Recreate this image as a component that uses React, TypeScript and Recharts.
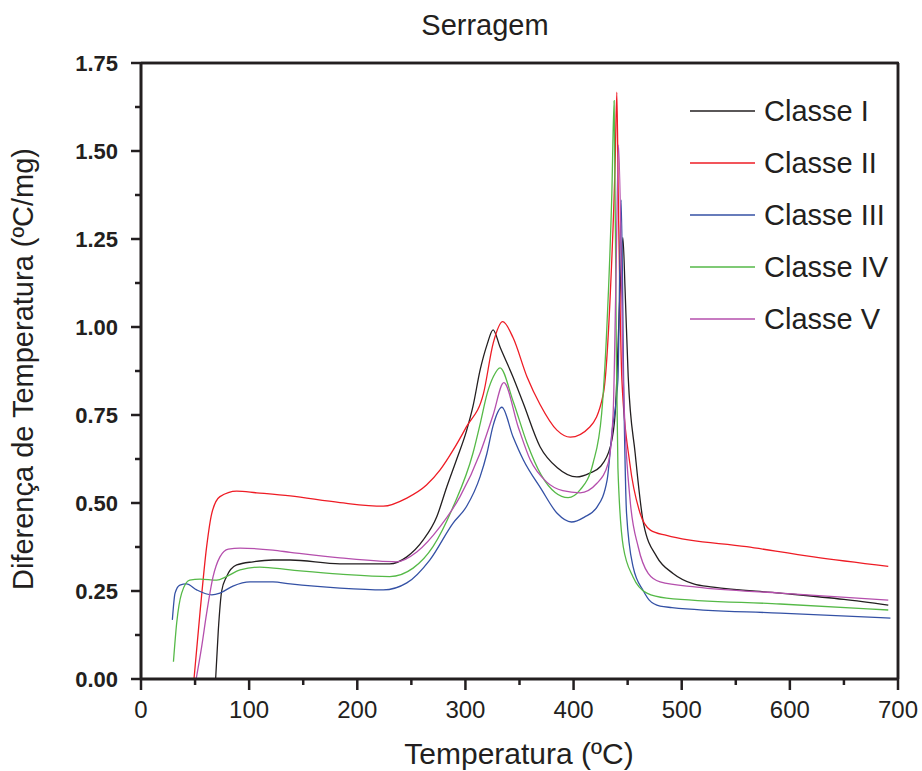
import React from "react";
import { LineChart, Line, XAxis, YAxis } from "recharts";

// [temperatura ºC, diferença ºC/mg]
const classeI: [number, number][] = [
  [69, 0], [71.5, 0.139], [74.6, 0.25], [79, 0.29], [88.5, 0.324], [103.6, 0.333],
  [122, 0.338], [138, 0.338], [184, 0.327], [230, 0.327], [245.8, 0.347], [261, 0.395],
  [273.5, 0.461], [282.8, 0.546], [292, 0.625], [301, 0.705], [307, 0.775], [313.6, 0.878],
  [320, 0.95], [325.6, 0.992], [332, 0.943], [344, 0.858], [353.4, 0.784], [369, 0.66],
  [385, 0.6], [403, 0.574], [415, 0.585], [424.6, 0.603], [434, 0.66], [438.5, 0.755],
  [443, 1.1], [445.6, 1.254], [447.7, 1.1], [450.5, 0.86], [457, 0.64], [464.6, 0.443],
  [477, 0.347], [492, 0.3], [511, 0.27], [529, 0.261], [591, 0.244], [650, 0.226], [691, 0.21],
];

const classeII: [number, number][] = [
  [49, 0], [54.6, 0.19], [60.7, 0.376], [65.4, 0.47], [73, 0.518], [88.5, 0.534],
  [107, 0.529], [138, 0.52], [184, 0.501], [224, 0.491], [245.8, 0.514], [264, 0.551],
  [276.6, 0.594], [288.6, 0.65], [301, 0.717], [316.6, 0.81], [325.7, 0.954], [334.5, 1.015],
  [344, 0.97], [357, 0.858], [369, 0.78], [384.6, 0.707], [397, 0.687], [415, 0.716],
  [427.5, 0.81], [434, 1.097], [438.5, 1.474], [440, 1.667], [441.3, 1.38], [444.7, 0.849],
  [452, 0.613], [461.6, 0.47], [471, 0.423], [486, 0.408], [560, 0.376], [622, 0.347], [691, 0.32],
];

const classeIII: [number, number][] = [
  [29, 0.168], [31.5, 0.244], [36, 0.267], [42, 0.27], [51.5, 0.253], [65.4, 0.239],
  [73, 0.244], [85, 0.264], [100.8, 0.276], [122, 0.276], [138, 0.27], [184, 0.258],
  [224, 0.253], [245.8, 0.273], [267, 0.338], [288.6, 0.443], [301, 0.49], [313.6, 0.575],
  [319.8, 0.64], [325.6, 0.72], [333.7, 0.772], [344, 0.688], [353.6, 0.622], [370, 0.54],
  [385, 0.47], [398, 0.446], [410, 0.46], [421.8, 0.489], [431, 0.565], [435.7, 0.707],
  [441, 0.85], [444, 1.361], [446.5, 0.8], [449, 0.47], [455, 0.319], [464.6, 0.25],
  [470, 0.224], [480, 0.207], [491, 0.203], [591, 0.187], [693, 0.173],
];

const classeIV: [number, number][] = [
  [30, 0.049], [33, 0.159], [37.6, 0.244], [45, 0.281], [54.6, 0.284], [70, 0.281],
  [79, 0.291], [91.6, 0.31], [110, 0.318], [138, 0.31], [184, 0.298], [230, 0.291],
  [251.6, 0.315], [270, 0.376], [288.6, 0.489], [307, 0.642], [314, 0.73], [320, 0.81],
  [326, 0.86], [332, 0.884], [344, 0.79], [357, 0.67], [370, 0.58], [383, 0.53],
  [395, 0.515], [406, 0.537], [418, 0.613], [426, 0.755], [430.8, 1.0], [435.4, 1.38],
  [437.5, 1.643], [439.5, 0.95], [441, 0.6], [446, 0.375], [455, 0.29], [467.8, 0.244],
  [486, 0.23], [591, 0.213], [691, 0.196],
];

const classeV: [number, number][] = [
  [51, 0], [56, 0.09], [60.7, 0.187], [66.6, 0.29], [73, 0.347], [80.8, 0.369],
  [91.6, 0.372], [122, 0.366], [138, 0.36], [184, 0.344], [236.5, 0.333], [255, 0.361],
  [276.6, 0.433], [295, 0.518], [313.6, 0.642], [325.6, 0.75], [335.5, 0.842], [348.8, 0.716],
  [360, 0.622], [375, 0.56], [390, 0.535], [406, 0.529], [421.6, 0.556], [432, 0.613],
  [436.6, 0.755], [439, 1.1], [441.6, 1.517], [446, 0.849], [452, 0.517], [459.8, 0.375],
  [469, 0.3], [480, 0.276], [514, 0.261], [591, 0.244], [691, 0.224],
];

const seriesNames = ["Classe I", "Classe II", "Classe III", "Classe IV", "Classe V"];
const seriesColors = ["#231f20", "#ee1c25", "#3451a5", "#55b947", "#b54fad"];
const seriesData = [classeI, classeII, classeIII, classeIV, classeV];

const xTicks = [0, 50, 100, 150, 200, 250, 300, 350, 400, 450, 500, 550, 600, 650, 700];
const yTicks = [0, 0.125, 0.25, 0.375, 0.5, 0.625, 0.75, 0.875, 1, 1.125, 1.25, 1.375, 1.5, 1.625, 1.75];

const FONT = "'Liberation Sans', Arial, Helvetica, sans-serif";
const INK = "#231f20";
const PLOT_W = 757;
const PLOT_H = 616;

const toRows = (pts: [number, number][]) => pts.map(([t, v]) => ({ t, v }));

function BottomTick({ x, y, payload }: any) {
  const major = payload.value % 100 === 0;
  const last = payload.value === 700;
  return (
    <g>
      <line x1={x} x2={x} y1={y} y2={y + (major ? 11 : 6)} stroke={INK} strokeWidth={2.5} />
      {last && <line x1={x} x2={x} y1={y} y2={y - PLOT_H} stroke={INK} strokeWidth={2.5} />}
      {major && (
        <text x={x} y={y + 39} textAnchor="middle" fontSize={24} fontFamily={FONT} fill={INK}>
          {payload.value}
        </text>
      )}
    </g>
  );
}

function LeftTick({ x, y, payload }: any) {
  const q = payload.value / 0.25;
  const major = Math.abs(q - Math.round(q)) < 1e-6;
  const last = payload.value === 1.75;
  return (
    <g>
      <line x1={x - (major ? 10 : 6)} x2={x} y1={y} y2={y} stroke={INK} strokeWidth={2.5} />
      {last && <line x1={x} x2={x + PLOT_W} y1={y} y2={y} stroke={INK} strokeWidth={2.5} />}
      {major && (
        <text x={x - 23} y={y + 7.5} textAnchor="end" fontSize={22} fontWeight="bold" fontFamily={FONT} fill={INK}>
          {payload.value.toFixed(2)}
        </text>
      )}
    </g>
  );
}

export default function App() {
  return (
    <div style={{ position: "absolute", left: 0, top: 0, width: 922, height: 771, background: "#fff" }}>
      <LineChart width={922} height={771} margin={{ top: 63, right: 24, bottom: 0, left: 0 }}>
        <XAxis
          dataKey="t"
          type="number"
          domain={[0, 700]}
          ticks={xTicks}
          interval={0}
          height={92}
          tickSize={0}
          tickMargin={0}
          tickLine={false}
          tick={<BottomTick />}
          axisLine={{ stroke: INK, strokeWidth: 3 }}
          label={{
            content: () => (
              <text x={519} y={764} textAnchor="middle" fontSize={30} fontFamily={FONT} fill={INK}>
                Temperatura (ºC)
              </text>
            ),
          }}
        />
        <YAxis
          type="number"
          domain={[0, 1.75]}
          ticks={yTicks}
          interval={0}
          width={141}
          tickSize={0}
          tickMargin={0}
          tickLine={false}
          tick={<LeftTick />}
          axisLine={{ stroke: INK, strokeWidth: 3 }}
          label={{
            content: () => (
              <text
                transform="translate(33,369) rotate(-90)"
                textAnchor="middle"
                fontSize={29}
                fontFamily={FONT}
                fill={INK}
              >
                Diferença de Temperatura (ºC/mg)
              </text>
            ),
          }}
        />
        {seriesData.map((pts, i) => (
          <Line
            key={seriesNames[i]}
            name={seriesNames[i]}
            data={toRows(pts)}
            dataKey="v"
            type="monotone"
            stroke={seriesColors[i]}
            strokeWidth={1.3}
            dot={false}
            activeDot={false}
            isAnimationActive={false}
          />
        ))}
      </LineChart>
      {/* title, legend and the thin top/right edges of the plot box */}
      <svg
        width={922}
        height={771}
        style={{ position: "absolute", left: 0, top: 0, pointerEvents: "none" }}
      >
        <text x={485} y={35} textAnchor="middle" fontSize={29} fontFamily={FONT} fill={INK}>
          Serragem
        </text>
        <line x1={141} y1={63} x2={899} y2={63} stroke={INK} strokeWidth={2.5} />
        <line x1={898} y1={63} x2={898} y2={679} stroke={INK} strokeWidth={2.5} />
        {seriesNames.map((name, i) => {
          const cy = 111 + i * 52;
          return (
            <g key={name}>
              <line x1={690} x2={755} y1={cy} y2={cy} stroke={seriesColors[i]} strokeWidth={1.6} />
              <text x={764} y={cy + 10} fontSize={29} fontFamily={FONT} fill={INK}>
                {name}
              </text>
            </g>
          );
        })}
      </svg>
    </div>
  );
}
